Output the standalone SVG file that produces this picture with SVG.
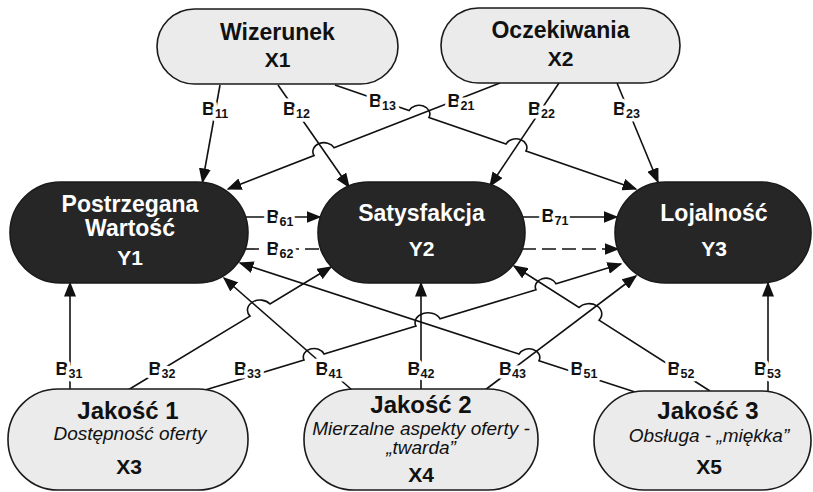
<svg xmlns="http://www.w3.org/2000/svg" width="813" height="492" viewBox="0 0 813 492">
<defs>
<marker id="arr" viewBox="0 0 15 12" refX="13.5" refY="6" markerWidth="15" markerHeight="12" markerUnits="userSpaceOnUse" orient="auto"><path d="M0,0 L15,6 L0,12 z" fill="#111"/></marker>
<style>
.light{fill:#ebebeb;stroke:#1a1a1a;stroke-width:1.6}
.dark{fill:#262626;stroke:#1a1a1a;stroke-width:1.6}
text{font-family:"Liberation Sans",Arial,sans-serif;text-anchor:middle}
.t{font-size:23px;font-weight:bold}
.v{font-size:21px;font-weight:bold}
.q{font-size:24px;font-weight:bold}
.s{font-size:19px;font-style:italic}
.w{fill:#ffffff}
.k{fill:#111111}
.c{fill:none;stroke:#111;stroke-width:1.6}
.a{marker-end:url(#arr)}
.d{stroke-dasharray:14 6}
.lb{font-size:18px;font-weight:bold;fill:#111;stroke:#fff;stroke-width:7;stroke-linejoin:round;paint-order:stroke}
.lb tspan{font-size:12.5px}
</style>
</defs>
<rect width="813" height="492" fill="#ffffff"/>

<g id="connectors">
<path class="c a" d="M220,85 L202.5,182"/>
<path class="c a" d="M278,85 L349,187"/>
<path class="c a" d="M335,85 L409,110.6 A10 8 0 0 1 429,117.5 L506,144.1 A10 8 0 0 1 526,151 L636,189"/>
<path class="c a" d="M500,83 L334,147.7 A10 8 0 0 0 314,155.5 L228,189"/>
<path class="c a" d="M559,83 L490,186"/>
<path class="c a" d="M617,83 L658,182"/>
<path class="c a" d="M246,217 L320,217"/>
<path class="c a" d="M523,217 L617,217"/>
<path class="c d" d="M245,249 L321,249"/>
<path class="c d a" d="M522,249 L618,249"/>
<path class="c a" d="M70,389 L70,283"/>
<path class="c a" d="M128,390 L250,316.1 A10 8 0 0 1 270,304 L331,267"/>
<path class="c a" d="M205,390 L304,360 A10 8 0 0 1 324,354 L416,326.1 A12 9 0 0 1 440,318.8 L536,289.8 A10 8 0 0 1 556,283.7 L621,264"/>
<path class="c a" d="M352,390 L224,278"/>
<path class="c a" d="M421,389 L421,283"/>
<path class="c a" d="M485,390 L636,276"/>
<path class="c a" d="M635,392 L539,360.7 A10 8 0 0 0 519,354.1 L240,263"/>
<path class="c a" d="M710,391 L599,320.2 A10 8 0 0 0 579,307.5 L514,266"/>
<path class="c a" d="M768,391 L768,283"/>
</g>

<g id="labels">
<text class="lb" x="215" y="115">B<tspan dy="3">11</tspan></text>
<text class="lb" x="296.5" y="115">B<tspan dy="3">12</tspan></text>
<text class="lb" x="382.5" y="107">B<tspan dy="3">13</tspan></text>
<text class="lb" x="461" y="107">B<tspan dy="3">21</tspan></text>
<text class="lb" x="541.5" y="115">B<tspan dy="3">22</tspan></text>
<text class="lb" x="626.5" y="115">B<tspan dy="3">23</tspan></text>
<text class="lb" x="280" y="223">B<tspan dy="3">61</tspan></text>
<text class="lb" x="280" y="255">B<tspan dy="3">62</tspan></text>
<text class="lb" x="555" y="222">B<tspan dy="3">71</tspan></text>
<text class="lb" x="69" y="375">B<tspan dy="3">31</tspan></text>
<text class="lb" x="162" y="375">B<tspan dy="3">32</tspan></text>
<text class="lb" x="247.5" y="375">B<tspan dy="3">33</tspan></text>
<text class="lb" x="329" y="375">B<tspan dy="3">41</tspan></text>
<text class="lb" x="421" y="375">B<tspan dy="3">42</tspan></text>
<text class="lb" x="512.5" y="375">B<tspan dy="3">43</tspan></text>
<text class="lb" x="584" y="375">B<tspan dy="3">51</tspan></text>
<text class="lb" x="681" y="375">B<tspan dy="3">52</tspan></text>
<text class="lb" x="767.5" y="375">B<tspan dy="3">53</tspan></text>
</g>

<g id="X1">
<rect class="light" x="157" y="9" width="241" height="75" rx="37.5"/>
<text class="t k" x="277.5" y="40">Wizerunek</text>
<text class="v k" x="277.5" y="67">X1</text>
</g>
<g id="X2">
<rect class="light" x="441" y="8" width="239" height="75" rx="37.5"/>
<text class="t k" x="560.5" y="38">Oczekiwania</text>
<text class="v k" x="560.5" y="66">X2</text>
</g>
<g id="Y1">
<rect class="dark" x="10" y="182" width="238" height="101" rx="50.5"/>
<text class="t w" x="130" y="212">Postrzegana</text>
<text class="t w" x="130" y="236">Wartość</text>
<text class="v w" x="130" y="265">Y1</text>
</g>
<g id="Y2">
<rect class="dark" x="318" y="182" width="207" height="101" rx="50.5"/>
<text class="t w" x="421.5" y="221">Satysfakcja</text>
<text class="v w" x="421.5" y="256">Y2</text>
</g>
<g id="Y3">
<rect class="dark" x="615" y="182" width="196" height="101" rx="50.5"/>
<text class="t w" x="714" y="221">Lojalność</text>
<text class="v w" x="714" y="256">Y3</text>
</g>
<g id="X3">
<rect class="light" x="8" y="389" width="240" height="101" rx="50"/>
<text class="q k" x="128" y="419">Jakość 1</text>
<text class="s k" x="130" y="440">Dostępność oferty</text>
<text class="v k" x="129" y="474">X3</text>
</g>
<g id="X4">
<rect class="light" x="304" y="389" width="234" height="101" rx="50"/>
<text class="q k" x="421" y="413">Jakość 2</text>
<text class="s k" x="421" y="435">Mierzalne aspekty oferty -</text>
<text class="s k" x="421" y="454">„twarda”</text>
<text class="v k" x="421" y="482">X4</text>
</g>
<g id="X5">
<rect class="light" x="594" y="391" width="217" height="99" rx="49.5"/>
<text class="q k" x="708" y="419">Jakość 3</text>
<text class="s k" x="709" y="442">Obsługa - „miękka”</text>
<text class="v k" x="709" y="474">X5</text>
</g>
</svg>
